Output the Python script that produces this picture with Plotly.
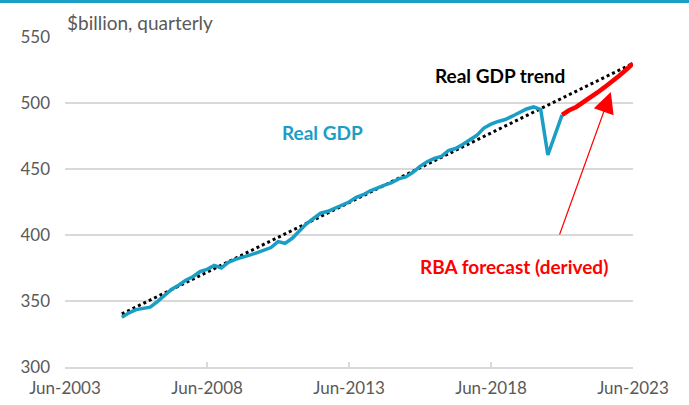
import plotly.graph_objects as go
import pandas as pd

# Real GDP, quarterly ($billion), Jun-2005 .. Dec-2020
gdp_start = "2005-06-01"
gdp_values = [337.6, 341.0, 343.5, 344.7, 345.3, 349.5, 354.5, 358.8, 362.0, 365.7,
              368.4, 372.2, 374.0, 377.0, 375.0, 379.3, 381.6, 383.0, 384.8, 386.5,
              388.2, 390.5, 395.0, 393.7, 397.5, 403.5, 408.5, 412.5, 416.5, 418.0,
              420.5, 422.5, 425.0, 428.5, 430.5, 433.5, 436.0, 437.8, 439.6, 442.5,
              444.0, 447.5, 452.0, 455.5, 458.0, 459.5, 464.0, 465.5, 468.5, 472.0,
              475.5, 481.0, 484.0, 486.0, 487.5, 490.0, 492.5, 495.5, 497.0, 495.0,
              460.6, 476.0, 491.0]

# RBA forecast (derived), Dec-2020 .. Jun-2023
fc_start = "2020-12-01"
fc_values = [491.0, 494.5, 497.0, 500.5, 504.0, 508.0, 512.0, 516.0, 520.5, 525.0, 530.0]

# Real GDP trend (straight line)
trend_dates = ["2005-06-01", "2023-06-01"]
trend_values = [340.2, 530.0]

tick_dates = ["2003-06-01", "2008-06-01", "2013-06-01", "2018-06-01", "2023-06-01"]
tick_labels = ["Jun-2003", "Jun-2008", "Jun-2013", "Jun-2018", "Jun-2023"]

gdp_dates = pd.date_range(gdp_start, periods=len(gdp_values), freq="3MS")
fc_dates = pd.date_range(fc_start, periods=len(fc_values), freq="3MS")

TEAL = "#1A9EC6"
RED = "#FF0000"
GRID = "#D9D9D9"
TXT = "#595959"
FONT = "Lato"

fig = go.Figure()
fig.add_trace(go.Scatter(x=trend_dates, y=trend_values, mode="lines",
                         line=dict(color="black", width=3, dash="dot"), hoverinfo="skip"))
fig.add_trace(go.Scatter(x=gdp_dates, y=gdp_values, mode="lines",
                         line=dict(color=TEAL, width=3.5)))
fig.add_trace(go.Scatter(x=fc_dates, y=fc_values, mode="lines",
                         line=dict(color=RED, width=4.5)))

fig.update_layout(
    width=689, height=405,
    margin=dict(l=65, r=56, t=37, b=38),
    paper_bgcolor="white", plot_bgcolor="white",
    showlegend=False,
    font=dict(family=FONT, color=TXT, size=15),
    xaxis=dict(type="date", range=["2003-06-01", "2023-06-01"],
               tickvals=tick_dates, ticktext=tick_labels,
               showgrid=False, showline=True, linecolor=GRID, linewidth=1.5,
               ticks="inside", ticklen=5, tickcolor=GRID, tickwidth=1.5,
               tickfont=dict(size=17, color=TXT), zeroline=False,
               ticklabelstandoff=5, automargin=False),
    yaxis=dict(range=[300, 550], tickvals=[300, 350, 400, 450, 500, 550],
               showgrid=True, gridcolor=GRID, gridwidth=1.5, zeroline=False,
               showline=False, ticks="", tickfont=dict(size=17, color=TXT),
               ticklabelstandoff=14, automargin=False),
)

fig.add_shape(type="rect", xref="paper", yref="paper",
              x0=-65/568, x1=1+56/568, y0=1+34/330, y1=1+37/330,
              fillcolor=TEAL, line=dict(width=0))

fig.add_annotation(xref="paper", yref="paper", x=0.0, y=1.0, yshift=1,
                   xanchor="left", yanchor="bottom", showarrow=False,
                   text="$billion, quarterly", font=dict(size=19, color=TXT))
fig.add_annotation(x="2012-07-01", y=477.3, showarrow=False, text="<b>Real GDP</b>",
                   font=dict(size=19, color=TEAL))
fig.add_annotation(x="2018-09-24", y=521.2, showarrow=False, text="<b>Real GDP trend</b>",
                   font=dict(size=19, color="black"))
fig.add_annotation(x="2019-03-25", y=375.8, showarrow=False, text="<b>RBA forecast (derived)</b>",
                   font=dict(size=19, color=RED))
fig.add_annotation(x="2022-08-20", y=508.3, ax="2020-10-23", ay=399.2,
                   axref="x", ayref="y", xref="x", yref="y", text="",
                   showarrow=True, arrowhead=2, arrowsize=3.5, arrowwidth=1.2,
                   arrowcolor=RED)

fig.write_html("out.html")
